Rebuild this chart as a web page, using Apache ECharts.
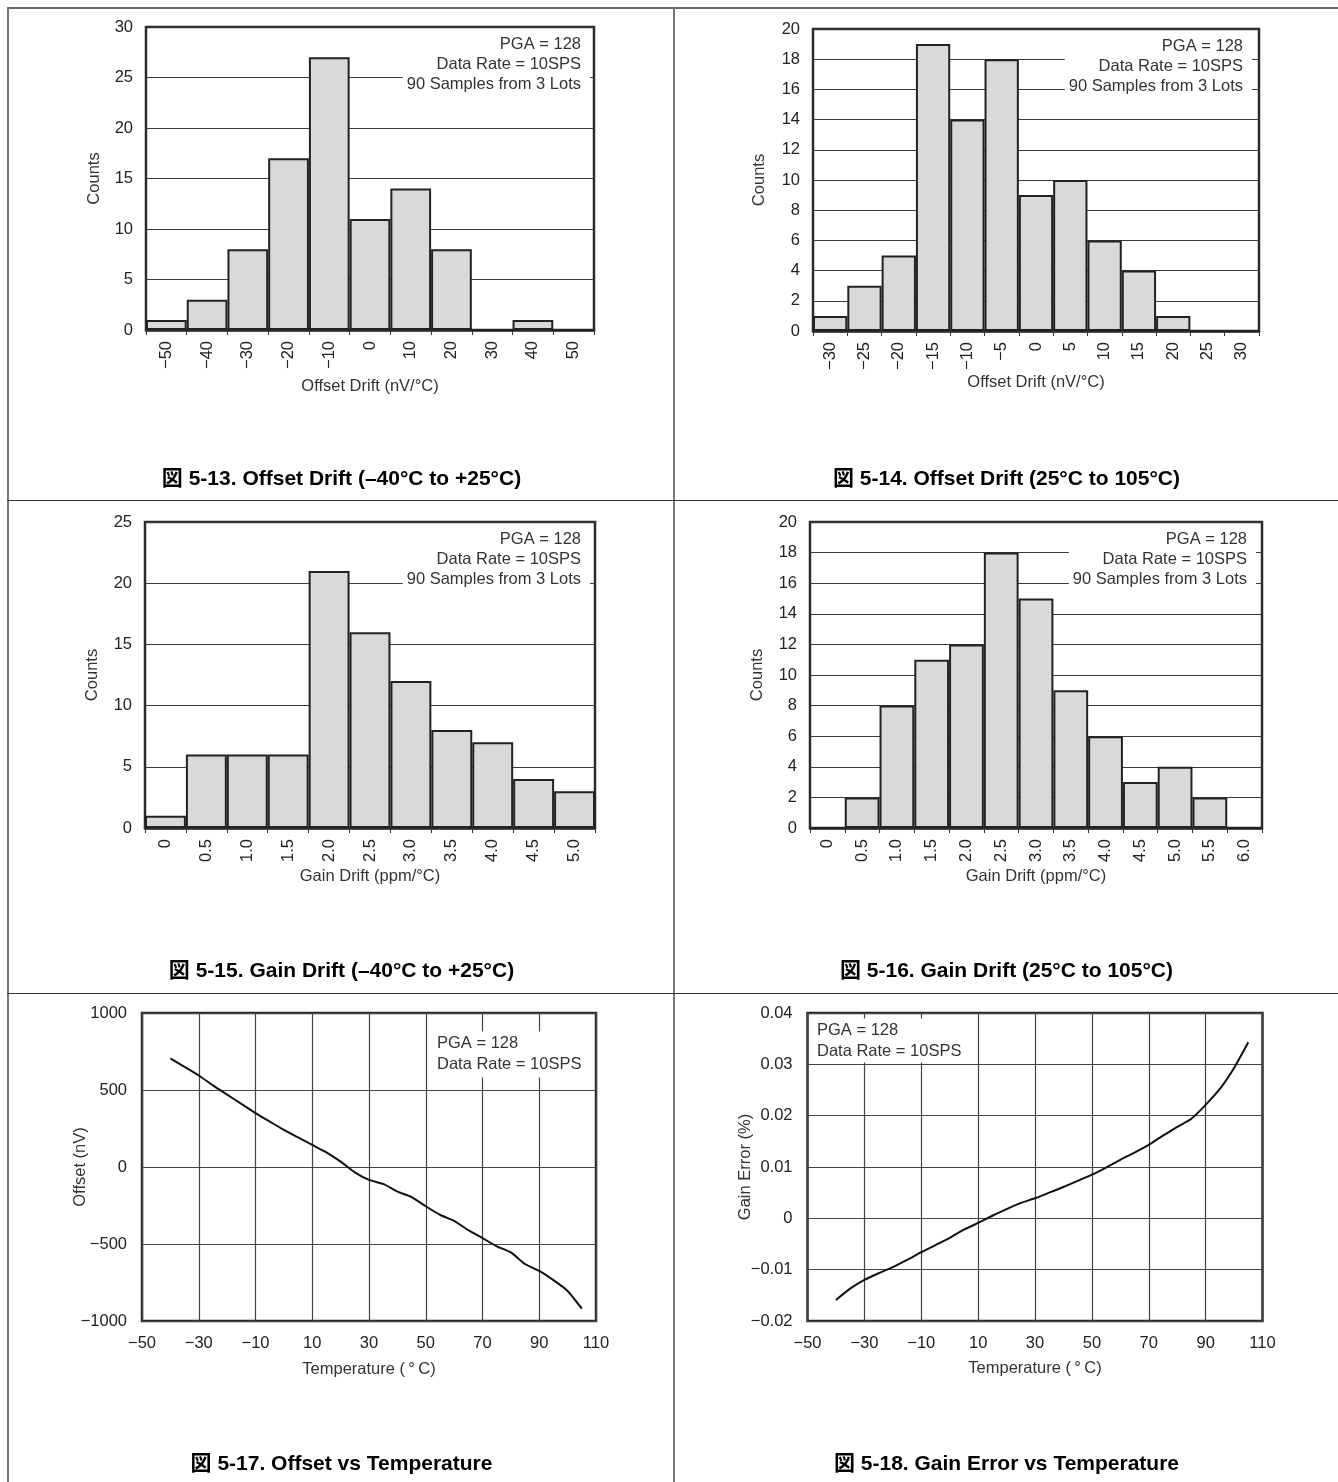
<!DOCTYPE html>
<html>
<head>
<meta charset="utf-8">
<title>Typical Characteristics</title>
<script src="https://cdn.jsdelivr.net/npm/echarts/dist/echarts.min.js"></script>
<style>
  body { margin: 0; background: #fff; }
  #page { position: relative; width: 1338px; height: 1482px; overflow: hidden; }
  .rule { position: absolute; background: #555; }
  .panel { position: absolute; }
</style>
</head>
<body>
<div id="page">
  <div class="rule" style="left:7px;top:7px;width:1331px;height:2px;background:#666"></div>
  <div class="rule" style="left:7px;top:7px;width:2px;height:1475px;background:#777"></div>
  <div class="rule" style="left:673px;top:7px;width:2px;height:1475px;background:#777"></div>
  <div class="rule" style="left:7px;top:500px;width:1331px;height:1px;background:#333"></div>
  <div class="rule" style="left:7px;top:993px;width:1331px;height:1px;background:#333"></div>

  <div class="panel" id="p1" style="left:9px;top:9px;width:665px;height:491px"></div>
  <div class="panel" id="p2" style="left:675px;top:9px;width:663px;height:491px"></div>
  <div class="panel" id="p3" style="left:9px;top:501px;width:665px;height:492px"></div>
  <div class="panel" id="p4" style="left:675px;top:501px;width:663px;height:492px"></div>
  <div class="panel" id="p5" style="left:9px;top:994px;width:665px;height:488px"></div>
  <div class="panel" id="p6" style="left:675px;top:994px;width:663px;height:488px"></div>
</div>
<script>
// 図 5-13 offset drift -40..25
const offsetDriftLowBins = ['−50', '−40', '−30', '−20', '−10', '0', '10', '20', '30', '40', '50'];
const offsetDriftLowCounts = [1, 3, 8, 17, 27, 11, 14, 8, 0, 1, 0];
// 図 5-14 offset drift 25..105
const offsetDriftHighBins = ['−30', '−25', '−20', '−15', '−10', '−5', '0', '5', '10', '15', '20', '25', '30'];
const offsetDriftHighCounts = [1, 3, 5, 19, 14, 18, 9, 10, 6, 4, 1, 0, 0];
// 図 5-15 gain drift -40..25
const gainDriftLowBins = ['0', '0.5', '1.0', '1.5', '2.0', '2.5', '3.0', '3.5', '4.0', '4.5', '5.0'];
const gainDriftLowCounts = [1, 6, 6, 6, 21, 16, 12, 8, 7, 4, 3];
// 図 5-16 gain drift 25..105
const gainDriftHighBins = ['0', '0.5', '1.0', '1.5', '2.0', '2.5', '3.0', '3.5', '4.0', '4.5', '5.0', '5.5', '6.0'];
const gainDriftHighCounts = [0, 2, 8, 11, 12, 18, 15, 9, 6, 3, 4, 2, 0];
// 図 5-17 / 5-18 vs temperature
const temps = [-40, -35, -30, -25, -20, -15, -10, -5, 0, 5, 10, 15, 20, 25, 30, 35, 40, 45, 50, 55, 60, 65, 70, 75, 80, 85, 90, 95, 100, 105];
const offsetNv = [705, 650, 594, 530, 470, 410, 350, 295, 241, 192, 143, 95, 35, -35, -84, -110, -160, -195, -255, -310, -350, -410, -462, -515, -555, -630, -675, -735, -805, -920];
const gainErrPct = [-0.0159, -0.0137, -0.0120, -0.0107, -0.0095, -0.0081, -0.0066, -0.0052, -0.0038, -0.0022, -0.0009, 0.0005, 0.0018, 0.0030, 0.0039, 0.0050, 0.0061, 0.0073, 0.0085, 0.0099, 0.0114, 0.0128, 0.0143, 0.0161, 0.0178, 0.0194, 0.0221, 0.0252, 0.0293, 0.0343];

const font = '"Liberation Sans", Arial, Helvetica, "Noto Sans CJK JP", sans-serif';
const minus = function (v) { return String(v).replace('-', '\u2212'); };
const note3 = 'PGA = 128\nData Rate = 10SPS\n90 Samples from 3 Lots';
const note2 = 'PGA = 128\nData Rate = 10SPS';

function caption(text) {
  return {
    text: text, left: 'center', top: 460, padding: 0,
    textStyle: { fontFamily: font, fontSize: 21, fontWeight: 'bold', color: '#000' }
  };
}

function noteText(x, y, text, align, padding, lineHeight) {
  return {
    type: 'text', z: 100, x: x, y: y,
    style: {
      text: text, align: align, verticalAlign: 'top',
      fontFamily: font, fontSize: 16.5, lineHeight: lineHeight, fill: '#333',
      backgroundColor: '#fff', padding: padding
    }
  };
}

//直方图
function drawHist(id, o) {
  let chart = echarts.init(document.getElementById(id));
  chart.setOption({
    animation: false,
    textStyle: { fontFamily: font },
    title: caption(o.caption),
    grid: Object.assign({ show: true, borderColor: '#2b2b2b', borderWidth: 2.5, containLabel: false, outerBoundsMode: 'none' }, o.grid),
    xAxis: {
      type: 'category', data: o.bins, boundaryGap: true,
      name: o.xName, nameLocation: 'middle', nameGap: o.xGap, nameMoveOverlap: false,
      nameTextStyle: { fontSize: 16.5, color: '#333', fontFamily: font },
      axisLine: { show: true, lineStyle: { color: '#2b2b2b', width: 2.5 } },
      axisTick: { show: true, length: 5, alignWithLabel: false, interval: 0, lineStyle: { color: '#333', width: 1 } },
      axisLabel: { interval: 0, rotate: 90, margin: 11, fontSize: 16.5, color: '#222', fontFamily: font },
      splitLine: { show: false }
    },
    yAxis: {
      type: 'value', min: 0, max: o.yMax, interval: o.yStep,
      name: 'Counts', nameLocation: 'middle', nameGap: o.yGap, nameMoveOverlap: false,
      nameTextStyle: { fontSize: 16.5, color: '#333', fontFamily: font },
      axisLine: { show: false }, axisTick: { show: false },
      axisLabel: { margin: 13, fontSize: 16.5, color: '#222', fontFamily: font },
      splitLine: { show: true, lineStyle: { color: '#3a3a3a', width: 1.2 } }
    },
    series: [{
      type: 'bar', data: o.counts, barCategoryGap: 0, barGap: 0,
      itemStyle: { color: '#d9d9d9', borderColor: '#222', borderWidth: 2 }
    }],
    graphic: [noteText(o.noteX, o.noteY, note3, 'right', [0, 9, 0, 4], 20)]
  });
}

//温度曲线
function drawLine(id, o) {
  let chart = echarts.init(document.getElementById(id));
  chart.setOption({
    animation: false,
    textStyle: { fontFamily: font },
    title: caption(o.caption),
    grid: Object.assign({ show: true, borderColor: '#2b2b2b', borderWidth: 2.5, containLabel: false, outerBoundsMode: 'none' }, o.grid),
    xAxis: {
      type: 'value', min: -50, max: 110, interval: 20,
      name: 'Temperature (\u2009°\u2009C)', nameLocation: 'middle', nameGap: o.xGap, nameMoveOverlap: false,
      nameTextStyle: { fontSize: 16.5, color: '#333', fontFamily: font },
      axisLine: { show: false }, axisTick: { show: false },
      axisLabel: { margin: 14, fontSize: 16.5, color: '#222', fontFamily: font, formatter: minus },
      splitLine: { show: true, lineStyle: { color: '#444', width: 1.2 } }
    },
    yAxis: {
      type: 'value', min: o.yMin, max: o.yMax, interval: o.yStep,
      name: o.yName, nameLocation: 'middle', nameGap: o.yGap, nameMoveOverlap: false,
      nameTextStyle: { fontSize: 16.5, color: '#333', fontFamily: font },
      axisLine: { show: false }, axisTick: { show: false },
      axisLabel: {
        margin: 15, fontSize: 16.5, color: '#222', fontFamily: font,
        formatter: function (v) { return minus(Number(v.toFixed(4))); }
      },
      splitLine: { show: true, lineStyle: { color: '#444', width: 1.2 } }
    },
    series: [{
      type: 'line', data: o.x.map(function (t, i) { return [t, o.y[i]]; }),
      showSymbol: false, smooth: 0.2,
      lineStyle: { color: '#111', width: 2 }
    }],
    graphic: [noteText(o.noteX, o.noteY, note2, 'left', o.notePad, 21)]
  });
}

drawHist('p1', {
  caption: '図 5-13. Offset Drift (–40°C to +25°C)',
  bins: offsetDriftLowBins, counts: offsetDriftLowCounts, yMax: 30, yStep: 5,
  xName: 'Offset Drift (nV/°C)', xGap: 48, yGap: 43,
  grid: { left: 137, top: 18, width: 448, height: 303 },
  noteX: 581, noteY: 25
});
drawHist('p2', {
  caption: '図 5-14. Offset Drift (25°C to 105°C)',
  bins: offsetDriftHighBins, counts: offsetDriftHighCounts, yMax: 20, yStep: 2,
  xName: 'Offset Drift (nV/°C)', xGap: 43, yGap: 45,
  grid: { left: 138, top: 20, width: 446, height: 302 },
  noteX: 577, noteY: 27.7
});
drawHist('p3', {
  caption: '図 5-15. Gain Drift (–40°C to +25°C)',
  bins: gainDriftLowBins, counts: gainDriftLowCounts, yMax: 25, yStep: 5,
  xName: 'Gain Drift (ppm/°C)', xGap: 40, yGap: 44,
  grid: { left: 136, top: 21, width: 450, height: 306 },
  noteX: 581, noteY: 28
});
drawHist('p4', {
  caption: '図 5-16. Gain Drift (25°C to 105°C)',
  bins: gainDriftHighBins, counts: gainDriftHighCounts, yMax: 20, yStep: 2,
  xName: 'Gain Drift (ppm/°C)', xGap: 40, yGap: 44,
  grid: { left: 135, top: 21, width: 452, height: 306 },
  noteX: 581, noteY: 28.5
});
drawLine('p5', {
  caption: '図 5-17. Offset vs Temperature',
  x: temps, y: offsetNv, yMin: -1000, yMax: 1000, yStep: 500,
  yName: 'Offset (nV)', xGap: 40, yGap: 53,
  grid: { left: 133, top: 19, width: 454, height: 308 },
  noteX: 421, noteY: 37.5, notePad: [1, 6, 3, 7]
});
drawLine('p6', {
  caption: '図 5-18. Gain Error vs Temperature',
  x: temps, y: gainErrPct, yMin: -0.02, yMax: 0.04, yStep: 0.01,
  yName: 'Gain Error (%)', xGap: 39, yGap: 54,
  grid: { left: 132.5, top: 19, width: 455, height: 308 },
  noteX: 134.5, noteY: 24.6, notePad: [1, 6, 1, 7.5]
});
</script>
</body>
</html>
